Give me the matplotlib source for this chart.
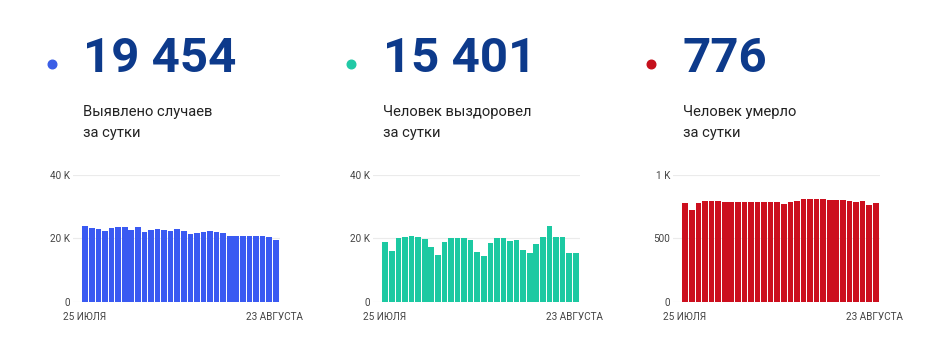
import matplotlib
matplotlib.use("Agg")
import matplotlib.pyplot as plt
from matplotlib.lines import Line2D

plt.rcParams['font.family'] = ['Roboto', 'DejaVu Sans']

W, H = 936, 356

# ---- data ----
headline_values = ["19 454", "15 401", "776"]
headline_labels = [["Выявлено случаев", "за сутки"],
                   ["Человек выздоровел", "за сутки"],
                   ["Человек умерло", "за сутки"]]
date_start = "25 ИЮЛЯ"
date_end = "23 АВГУСТА"

cases = [24000, 23200, 22800, 22300, 23200, 23500, 23700, 22700, 23500, 22000,
         22500, 23100, 22600, 22400, 22800, 22200, 21400, 21600, 22000, 22200,
         22100, 21700, 20600, 20700, 20700, 20800, 20800, 20800, 20400, 19454]
recovered = [18700, 16000, 20000, 20400, 20600, 20400, 19700, 17200, 14700, 18800,
             20000, 20200, 20100, 19500, 15600, 14300, 18600, 20000, 20100, 19300,
             19500, 16300, 15500, 18300, 20500, 23900, 20300, 20500, 15300, 15401]
deaths = [782, 724, 776, 797, 797, 792, 789, 787, 784, 784,
          787, 789, 789, 789, 784, 768, 787, 795, 808, 811,
          813, 811, 805, 803, 800, 792, 789, 797, 760, 776]

series = [cases, recovered, deaths]
yticks = [[0, 20000, 40000], [0, 20000, 40000], [0, 500, 1000]]
yticklabels = [["0", "20 K", "40 K"], ["0", "20 K", "40 K"], ["0", "500", "1 K"]]
ylims = [40000, 40000, 1000]

bar_colors = ["#3a5af2", "#1cc9a2", "#cc0f1e"]
dot_colors = ["#3b5ee6", "#21c9a6", "#c5101c"]
num_color = "#0d3a8b"
text_color = "#222222"

# ---- layout (pixels) ----
panel_x = [73, 373, 673]     # axes left
panel_w = 207
bar_left_off = 9            # offset of first bar edge from axes left
bars_w = 197
dot_x = [52, 351, 651]
num_x = [83, 383, 683]

fig = plt.figure(figsize=(W / 100, H / 100), dpi=100)
fig.patch.set_facecolor("white")

def fx(px):
    return px / W

def fy(py):
    return 1 - py / H

ax_bottom_px, ax_top_px = 301.7, 175
for i in range(3):
    data = series[i]
    n = len(data)
    unit = bars_w / n
    ax = fig.add_axes([fx(panel_x[i]), fy(ax_bottom_px),
                       panel_w / W, (ax_bottom_px - ax_top_px) / H])
    x0 = -0.5 - bar_left_off / unit
    x1 = x0 + panel_w / unit
    ax.bar(range(n), data, width=0.86, color=bar_colors[i], zorder=3)
    ax.set_xlim(x0, x1)
    ax.set_ylim(0, ylims[i])
    ax.set_yticks(yticks[i])
    ax.set_yticklabels(yticklabels[i], fontsize=7.2, color="#444444")
    ax.set_xticks([])
    ax.tick_params(axis='y', length=0, pad=2)
    ax.grid(axis='y', color="#ebebeb", linewidth=0.8, zorder=0)
    for s in ax.spines.values():
        s.set_visible(False)

    # date labels
    fig.text(fx(panel_x[i] - 10), fy(317), date_start, fontsize=7.2,
             color="#444444", ha="left", va="center")
    fig.text(fx(panel_x[i] + 230), fy(317), date_end, fontsize=7.2,
             color="#444444", ha="right", va="center")

    # headline
    fig.text(fx(num_x[i]), fy(59), headline_values[i], fontsize=35.5,
             fontweight="bold", color=num_color, ha="left", va="center")
    fig.add_artist(Line2D([fx(dot_x[i])], [fy(64)], marker="o", markersize=6.2,
                          color=dot_colors[i], linestyle="none",
                          transform=fig.transFigure))
    fig.text(fx(num_x[i]), fy(112), headline_labels[i][0], fontsize=10.6,
             color=text_color, ha="left", va="center")
    fig.text(fx(num_x[i]), fy(133), headline_labels[i][1], fontsize=10.6,
             color=text_color, ha="left", va="center")

fig.savefig("out.png", dpi=100, facecolor="white")
